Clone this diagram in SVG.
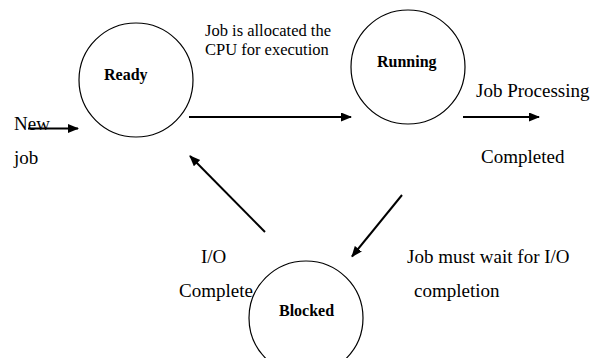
<svg xmlns="http://www.w3.org/2000/svg" width="595" height="358" viewBox="0 0 595 358">
<style>
  .state { fill: #ffffff; stroke: #000000; stroke-width: 1.2; }
  .name { font-family: "Liberation Serif", "Times New Roman", serif; font-weight: bold; font-size: 16px; fill: #000000; }
  .lbl { font-family: "Liberation Serif", "Times New Roman", serif; font-size: 19px; fill: #000000; }
  .lbls { font-family: "Liberation Serif", "Times New Roman", serif; font-size: 16.5px; fill: #000000; }
  .edge { stroke: #000000; stroke-width: 2; fill: none; marker-end: url(#arrow); }
</style>
<defs>
  <marker id="arrow" markerUnits="userSpaceOnUse" markerWidth="12" markerHeight="10" refX="10" refY="4.5" orient="auto">
    <path d="M0,0 L11,4.5 L0,9 z" fill="#000000"/>
  </marker>
</defs>
<rect x="0" y="0" width="595" height="358" fill="#ffffff"/>

<g id="node-ready">
  <circle class="state" cx="136" cy="80" r="57"/>
  <text class="name" x="104" y="80">Ready</text>
</g>
<g id="node-running">
  <circle class="state" cx="408" cy="67" r="57"/>
  <text class="name" x="377" y="67">Running</text>
</g>
<g id="node-blocked">
  <circle class="state" cx="306" cy="318" r="57"/>
  <text class="name" x="279" y="316">Blocked</text>
</g>

<g id="labels">
  <text class="lbls" x="205" y="36">Job is allocated the</text>
  <text class="lbls" x="205" y="55">CPU for execution</text>
  <text class="lbl" x="476" y="97">Job Processing</text>
  <text class="lbl" x="481" y="163">Completed</text>
  <text class="lbl" x="14" y="130">New</text>
  <text class="lbl" x="14" y="164">job</text>
  <text class="lbl" x="201" y="263">I/O</text>
  <text class="lbl" x="179" y="297">Complete</text>
  <text class="lbl" x="407" y="263">Job must wait for I/O</text>
  <text class="lbl" x="414" y="297">completion</text>
</g>

<g id="connectors">
  <line class="edge" x1="28" y1="128.5" x2="78" y2="128.5"/>
  <line class="edge" x1="189" y1="117" x2="351" y2="117"/>
  <line class="edge" x1="463" y1="117" x2="539" y2="117"/>
  <line class="edge" x1="402" y1="195" x2="352" y2="256.5"/>
  <line class="edge" x1="265" y1="232" x2="190" y2="156"/>
</g>
</svg>
